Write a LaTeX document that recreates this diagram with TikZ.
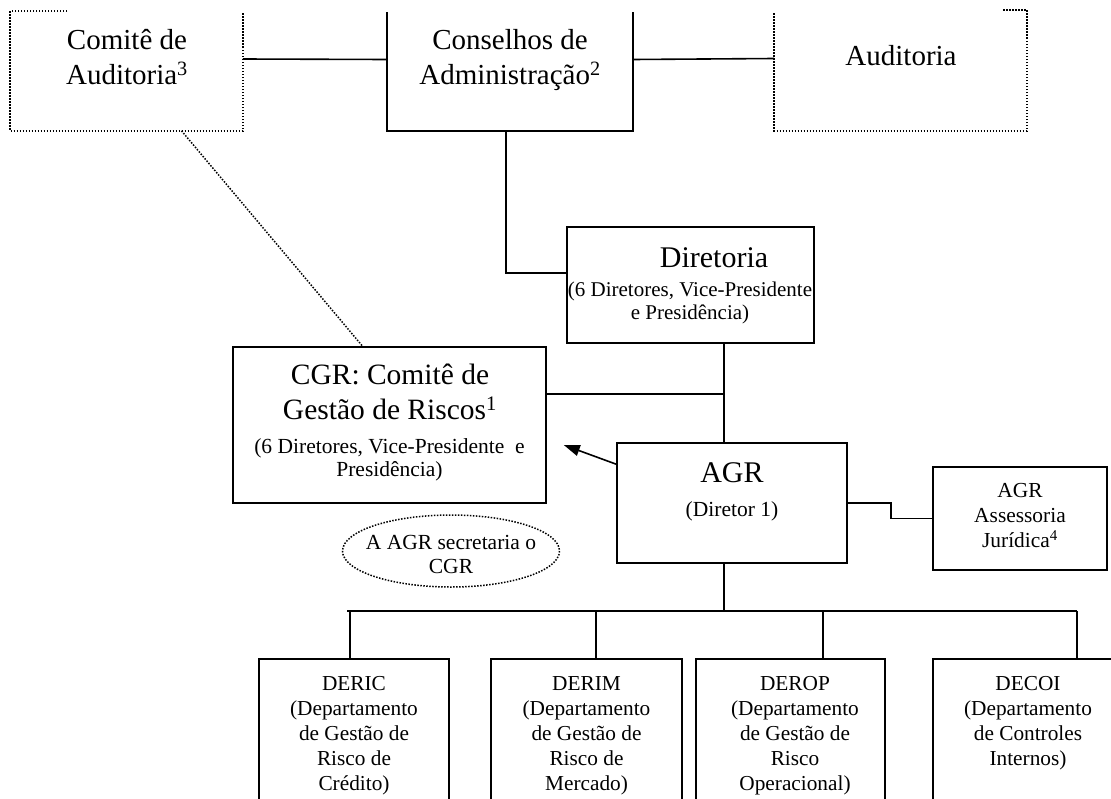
\documentclass[tikz,border=0pt]{standalone}
\usepackage{fontspec}
\setmainfont{Liberation Serif}
\usetikzlibrary{arrows.meta}

\tikzset{
	box/.style={draw,line width=1.6pt,inner sep=0pt},
	ghost/.style={inner sep=0pt},
	dots/.style={line width=1.5pt,dash pattern=on 1.5pt off 1.5pt},
	big/.style={font=\fontsize{29}{35}\selectfont,align=center,inner sep=0pt},
	small/.style={font=\fontsize{21.5}{24}\selectfont,align=center,inner sep=0pt},
	dept/.style={font=\fontsize{21.3}{25}\selectfont,align=center,inner sep=0pt,anchor=north},
}

\begin{document}
\begin{tikzpicture}[x=1pt,y=-1pt,line width=1.6pt]
	\path[use as bounding box,clip] (0,0) rectangle (1111,798);

	% top row
	\node[ghost,minimum width=231,minimum height=118] (ca) at (126.5,71) {};
	\node[ghost,minimum width=244,minimum height=117] (cons) at (510,71.5) {};
	\node[ghost,minimum width=251,minimum height=119] (aud) at (900.5,70.5) {};
	\draw[dots] ([xshift=57]ca.north west) -- (ca.north west) -- (ca.south west)
		-- (ca.south east) -- ([yshift=-2]ca.north east);
	\draw (cons.north west) -- (cons.south west) -- (cons.south east) -- (cons.north east);
	\draw[dots] ([yshift=-3]aud.north west) -- (aud.south west) -- (aud.south east)
		-- (aud.north east) -- ([xshift=-25]aud.north east);
	\node[big,anchor=north] (catxt) at (127,29) {Comitê de\\Auditoria\textsuperscript{3}};
	\node[big,anchor=north] (constxt) at (510,29) {Conselhos de\\Administração\textsuperscript{2}};
	\node[big,anchor=base] (audtxt) at (901,65) {Auditoria};

	% middle
	\node[box,minimum width=247,minimum height=116] (dir) at (690.5,285) {};
	\node[big,font=\fontsize{30}{35}\selectfont,anchor=base] (dirtxt) at (714,267) {Diretoria};
	\node[small,font=\fontsize{21}{23.5}\selectfont,anchor=north] (dirsub) at (690,281)
		{(6 Diretores, Vice-Presidente\\e Presidência)};

	\node[box,minimum width=313,minimum height=156] (cgr) at (389.5,425) {};
	\node[big,font=\fontsize{29.5}{35}\selectfont,anchor=north] (cgrtxt) at (390,363)
		{CGR: Comitê de\\Gestão de Riscos\textsuperscript{1}};
	\node[small,font=\fontsize{21.5}{23}\selectfont,anchor=north] (cgrsub) at (389.5,438)
		{(6 Diretores, Vice-Presidente\ \ e\\Presidência)};

	\node[box,minimum width=230,minimum height=120] (agr) at (732,503) {};
	\node[big,font=\fontsize{30}{35}\selectfont,anchor=base] (agrtxt) at (732,482) {AGR};
	\node[small,anchor=base] (agrsub) at (732,516) {(Diretor 1)};

	\node[box,minimum width=174,minimum height=103] (ass) at (1020,518.5) {};
	\node[small,font=\fontsize{21.4}{25}\selectfont,anchor=north] (asstxt) at (1020,483)
		{AGR\\Assessoria\\Jurídica\textsuperscript{4}};

	\node[small] (sec) at (451,554) {A AGR secretaria o\\CGR};
	\draw[dots] (451,551) ellipse [x radius=108.5,y radius=36];

	% departments
	\node[box,minimum width=190,minimum height=171] (deric) at (354,744.5) {};
	\node[box,minimum width=191,minimum height=171] (derim) at (586.5,744.5) {};
	\node[box,minimum width=189,minimum height=171] (derop) at (790.5,744.5) {};
	\node[box,minimum width=190,minimum height=171] (decoi) at (1028,744.5) {};
	\node[dept] (derictxt) at (354,676) {DERIC\\(Departamento\\de Gestão de\\Risco de\\Crédito)};
	\node[dept] (derimtxt) at (586.5,676) {DERIM\\(Departamento\\de Gestão de\\Risco de\\Mercado)};
	\node[dept] (deroptxt) at (795,676) {DEROP\\(Departamento\\de Gestão de\\Risco\\Operacional)};
	\node[dept] (decoitxt) at (1028,676) {DECOI\\(Departamento\\de Controles\\Internos)};

	% connectors
	\coordinate (spine) at ([xshift=-8]agr.north);
	\coordinate (bus) at ([xshift=-8,yshift=-47]agr.south);
	\draw ([yshift=12]ca.east) -- ([yshift=12]cons.west);
	\draw ([yshift=12]cons.east) -- ([yshift=12]aud.west);
	\draw ([xshift=-4]cons.south) |- ([yshift=12]dir.west);
	\draw[dots] ([xshift=55]ca.south) -- ([xshift=-27]cgr.north);
	\draw (spine) -- (spine |- dir.south);
	\draw ([yshift=31]cgr.east) -- ([yshift=31]cgr.east -| spine);
	\draw[-{Triangle[length=16pt,width=11pt]}] ([yshift=-22]agr.north west) -- ([xshift=17,yshift=-20]cgr.east);
	\draw (agr.east) -- ++(43,0) |- (ass.west);
	\draw ([xshift=-8]agr.south) -- (bus);
	\draw ([xshift=-7]deric.north |- bus) -- ([xshift=49]decoi.north |- bus);
	\foreach \n/\dx in {deric/-4,derim/9.5,derop/32.5,decoi/49}
		\draw ([xshift=\dx]\n.north) -- ([xshift=\dx]\n.north |- bus);
\end{tikzpicture}
\end{document}
